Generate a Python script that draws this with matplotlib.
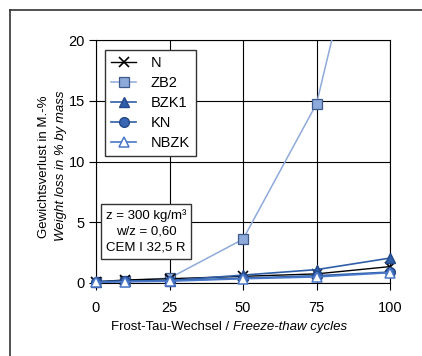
import matplotlib
matplotlib.use("Agg")
import matplotlib.pyplot as plt
from matplotlib.lines import Line2D
from matplotlib import font_manager

namen = {f.name for f in font_manager.fontManager.ttflist}
if 'Liberation Sans Narrow' in namen:
    plt.rcParams['font.family'] = ['Liberation Sans Narrow', 'DejaVu Sans']
    plt.rcParams['font.size'] = 10.5
else:
    plt.rcParams['font.family'] = ['Liberation Sans', 'DejaVu Sans']
    plt.rcParams['font.size'] = 9.5

zyklen = [0, 10, 25, 50, 75, 100]
n_vals = [0.1, 0.25, 0.35, 0.55, 0.75, 1.35]
zb2_vals = [0.1, 0.2, 0.4, 3.6, 14.75, 40.0]
bzk1_vals = [0.1, 0.15, 0.2, 0.65, 1.1, 2.05]
kn_vals = [0.1, 0.15, 0.2, 0.4, 0.6, 0.9]
nbzk_vals = [0.05, 0.1, 0.15, 0.35, 0.5, 0.85]

fig = plt.figure(figsize=(4.22, 3.56), dpi=100)
ax = fig.add_axes([96/422, 1-283/356, 294/422, 243/356])

ax.plot(zyklen, n_vals, color='black', lw=1, marker='x', ms=7, mew=1.2,
        mec='black', label='N', clip_on=False, zorder=4)
ax.plot(zyklen, zb2_vals, color='#8eaadb', lw=1.1, marker='s', ms=7,
        mfc='#8eaadb', mec='#3d5a8a', mew=0.9, label='ZB2', clip_on=True, zorder=3)
ax.plot(zyklen, bzk1_vals, color='#2f5fa8', lw=1.2, marker='^', ms=7,
        mfc='#2f5fa8', mec='#24488a', label='BZK1', clip_on=False, zorder=5)
ax.plot(zyklen, kn_vals, color='#2f5fa8', lw=1.2, marker='o', ms=7,
        mfc='#3a67b3', mec='#24488a', label='KN', clip_on=False, zorder=5)
ax.plot(zyklen, nbzk_vals, color='#4a78c8', lw=1.2, marker='^', ms=7,
        mfc='white', mec='#4a78c8', mew=1.1, label='NBZK', clip_on=False, zorder=6)

ax.set_xlim(0, 100)
ax.set_ylim(0, 20)
ax.set_xticks([0, 25, 50, 75, 100])
ax.set_yticks([0, 5, 10, 15, 20])
ax.grid(True, color='black', lw=0.8)
ax.set_axisbelow(True)
for s in ax.spines.values():
    s.set_color('black')
    s.set_linewidth(0.8)
ax.tick_params(direction='out', length=5, width=0.8, labelsize=10.5)
ax.tick_params(axis='y', pad=3)
ax.tick_params(axis='x', pad=8)

leg = ax.legend(loc='upper left', bbox_to_anchor=(0.005, 0.99), fancybox=False,
                framealpha=1, edgecolor='#333333', handlelength=1.7, fontsize=10.5,
                borderpad=0.45, labelspacing=0.4, handletextpad=1.0)
leg.get_frame().set_linewidth(1.0)

ax.text(0.17, 0.212, 'z = 300 kg/m³\nw/z = 0,60\nCEM I 32,5 R', transform=ax.transAxes,
        ha='center', va='center', multialignment='center', linespacing=1.45,
        bbox=dict(boxstyle='square,pad=0.35', fc='white', ec='#333333', lw=1.0), zorder=7)

fig.text(44/422, 1-167/356, 'Gewichtsverlust in M.-%', rotation=90, ha='center', va='center')
fig.text(61/422, 1-166/356, 'Weight loss in % by mass', rotation=90, ha='center',
         va='center', style='italic')
fig.text(233/422, 1-327/356, 'Frost-Tau-Wechsel / ', ha='right', va='center')
fig.text(233/422, 1-327/356, 'Freeze-thaw cycles', ha='left', va='center', style='italic')

fig.add_artist(Line2D([10/422, 10/422], [0, 1-10/356], color='#333333', lw=1.2))
fig.add_artist(Line2D([10/422, 1], [1-10/356, 1-10/356], color='#333333', lw=1.2))

fig.savefig('out.png', dpi=100)
